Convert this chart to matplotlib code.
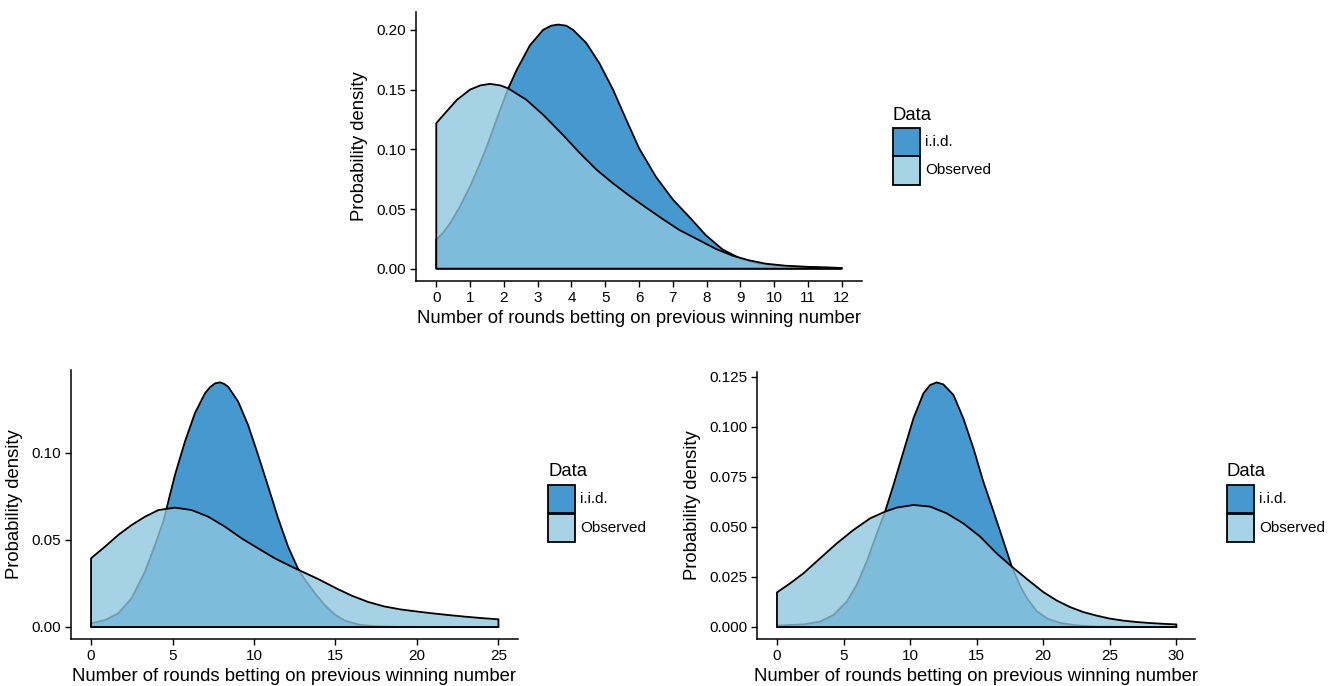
import matplotlib
matplotlib.use("Agg")
import matplotlib.pyplot as plt
from matplotlib.patches import Rectangle

plt.rcParams['font.family'] = ['Liberation Sans', 'DejaVu Sans']

# top panel (0..12)
top_iid_x = [0, 0.2, 0.41, 0.7, 1.0, 1.25, 1.49, 1.89, 2.13, 2.38, 2.77, 3.16, 3.4, 3.61, 3.85, 4.05, 4.44, 4.83,
             5.23, 5.62, 6.0, 6.5, 7.0, 7.5, 7.98, 8.47, 8.96, 9.45, 9.95, 10.54, 11.22, 12.0]
top_iid_y = [0.0243, 0.030, 0.038, 0.052, 0.069, 0.085, 0.102, 0.133, 0.151, 0.1665, 0.187, 0.200, 0.2035, 0.2045,
             0.2035, 0.200, 0.189, 0.172, 0.150, 0.125, 0.101, 0.077, 0.058, 0.043, 0.028, 0.0162, 0.009, 0.0048,
             0.0028, 0.0017, 0.0011, 0.0006]
top_obs_x = [0, 0.22, 0.61, 1.0, 1.3, 1.59, 1.9, 2.13, 2.67, 3.16, 3.75, 4.25, 4.74, 5.23, 5.72, 6.21, 6.7, 7.19,
             7.79, 8.28, 8.77, 9.26, 9.75, 10.34, 11.12, 12]
top_obs_y = [0.1219, 0.129, 0.1414, 0.150, 0.1535, 0.1548, 0.1535, 0.151, 0.1414, 0.129, 0.112, 0.0968, 0.083,
             0.0715, 0.061, 0.0512, 0.0416, 0.0325, 0.0237, 0.0165, 0.0109, 0.007, 0.0042, 0.0025, 0.0014, 0.0006]

# bottom-left panel (0..25)
bl_iid_x = [0, 0.86, 1.67, 2.49, 3.31, 3.92, 4.43, 4.63, 5.15, 5.76, 6.37, 6.99, 7.3, 7.6, 7.9, 8.15, 8.42, 9.03,
            9.64, 10.25, 10.87, 11.48, 12.09, 12.7, 13.1, 13.73, 14.34, 14.95, 15.56, 16.5, 17.5, 19, 25]
bl_iid_y = [0.0021, 0.004, 0.0079, 0.0165, 0.0318, 0.047, 0.0605, 0.068, 0.0874, 0.1065, 0.1228, 0.1343, 0.1378,
            0.140, 0.1406, 0.1398, 0.138, 0.1295, 0.116, 0.0989, 0.0807, 0.0625, 0.0462, 0.0335, 0.0275, 0.0195,
            0.0126, 0.0072, 0.0037, 0.0012, 0.0004, 0.0001, 0.0]
bl_obs_x = [0, 0.86, 1.67, 2.49, 3.31, 4.13, 5.15, 6.17, 7.19, 8.21, 9.23, 10.25, 11.27, 12.3, 13.93, 15.16, 16, 17,
            18, 19, 20, 21, 22, 23, 24, 25]
bl_obs_y = [0.0395, 0.0462, 0.0529, 0.0586, 0.0634, 0.0672, 0.0686, 0.0672, 0.0634, 0.0577, 0.051, 0.0452, 0.0395,
            0.0347, 0.0276, 0.0217, 0.0180, 0.0144, 0.0118, 0.0101, 0.0089, 0.0078, 0.0068, 0.0059, 0.0051, 0.0044]

# bottom-right panel (0..30)
br_iid_x = [0, 1.98, 3.23, 4.24, 5.24, 5.99, 6.74, 7.49, 8.12, 8.75, 9.5, 10.25, 11.0, 11.5, 12.0, 12.5, 13.26, 14.0,
            14.76, 15.5, 16.27, 17.02, 17.64, 18.27, 18.77, 19.5, 20.3, 21.3, 22.5, 24, 30]
br_iid_y = [0.0007, 0.0013, 0.0027, 0.006, 0.0127, 0.021, 0.0327, 0.0465, 0.0577, 0.071, 0.0877, 0.1043, 0.1168,
            0.121, 0.1223, 0.1213, 0.116, 0.1043, 0.0893, 0.0727, 0.0577, 0.0427, 0.0302, 0.0205, 0.0145, 0.008,
            0.0042, 0.002, 0.0008, 0.0002, 0.0]
br_obs_x = [0, 0.98, 1.98, 3.23, 4.49, 5.74, 6.99, 8.12, 9.0, 10.25, 11.5, 12.76, 14.0, 15.26, 16.5, 17.64, 18.77,
            20, 21, 22, 23, 24, 25, 26, 27, 28, 29, 30]
br_obs_y = [0.0173, 0.0218, 0.0268, 0.0343, 0.0418, 0.0485, 0.0543, 0.0577, 0.0597, 0.061, 0.0602, 0.0568, 0.0518,
            0.0452, 0.0368, 0.0302, 0.024, 0.0175, 0.0133, 0.010, 0.0075, 0.0057, 0.0042, 0.0032, 0.0025, 0.002,
            0.0016, 0.0013]

series_names = ['i.i.d.', 'Observed']
iid_color = '#4699ce'
obs_rgba = (141 / 255, 199 / 255, 223 / 255, 0.79)
obs_key = '#a6d3e6'
xlabel = 'Number of rounds betting on previous winning number'
ylabel = 'Probability density'

W, H = 1340, 686
fig = plt.figure(figsize=(W / 100, H / 100), dpi=100)


def px_box(l, t, r, b):
    return [l / W, 1 - b / H, (r - l) / W, (b - t) / H]


def density(ax, x, y, face):
    xs = [x[0]] + list(x) + [x[-1]]
    ys = [0] + list(y) + [0]
    ax.fill(xs, ys, facecolor=face, edgecolor='black', linewidth=1.3, joinstyle='round')


def panel(box, iid, obs, xlim, ylim, xticks, yticks, yfmt):
    ax = fig.add_axes(px_box(*box))
    density(ax, iid[0], iid[1], iid_color)
    density(ax, obs[0], obs[1], obs_rgba)
    ax.set_xlim(*xlim)
    ax.set_ylim(*ylim)
    ax.set_xticks(xticks)
    ax.set_yticks(yticks)
    ax.set_yticklabels([yfmt.format(v) for v in yticks])
    for s in ['top', 'right']:
        ax.spines[s].set_visible(False)
    for s in ['left', 'bottom']:
        ax.spines[s].set_linewidth(1.1)
    ax.tick_params(length=4, width=1.0, labelsize=11, colors='black', pad=3)
    ax.set_xlabel(xlabel, fontsize=13.3, labelpad=4)
    ax.set_ylabel(ylabel, fontsize=13.3, labelpad=6)
    return ax


def legend(x0, ty):
    fig.text(x0 / W, 1 - ty / H, 'Data', fontsize=13.3, va='center', ha='left')
    for i, (name, col) in enumerate(zip(series_names, [iid_color, obs_key])):
        top = ty + 13 + i * 28.5
        fig.add_artist(Rectangle((x0 / W, 1 - (top + 28) / H), 27 / W, 28 / H,
                                 transform=fig.transFigure, facecolor=col,
                                 edgecolor='black', linewidth=1.3))
        fig.text((x0 + 32) / W, 1 - (top + 14) / H, name, fontsize=11, va='center', ha='left')


panel((416, 12, 862, 281), (top_iid_x, top_iid_y), (top_obs_x, top_obs_y),
      (-0.6, 12.6), (-0.0103, 0.215), list(range(0, 13)), [0, 0.05, 0.10, 0.15, 0.20], '{:.2f}')
legend(893, 115)

panel((71, 370, 518, 639), (bl_iid_x, bl_iid_y), (bl_obs_x, bl_obs_y),
      (-1.23, 26.2), (-0.0069, 0.1477), [0, 5, 10, 15, 20, 25], [0, 0.05, 0.10], '{:.2f}')
legend(548, 472)

panel((757, 372, 1195, 639), (br_iid_x, br_iid_y), (br_obs_x, br_obs_y),
      (-1.5, 31.4), (-0.006, 0.1275), [0, 5, 10, 15, 20, 25, 30],
      [0, 0.025, 0.05, 0.075, 0.10, 0.125], '{:.3f}')
legend(1227, 472)

fig.savefig('out.png', dpi=100)
